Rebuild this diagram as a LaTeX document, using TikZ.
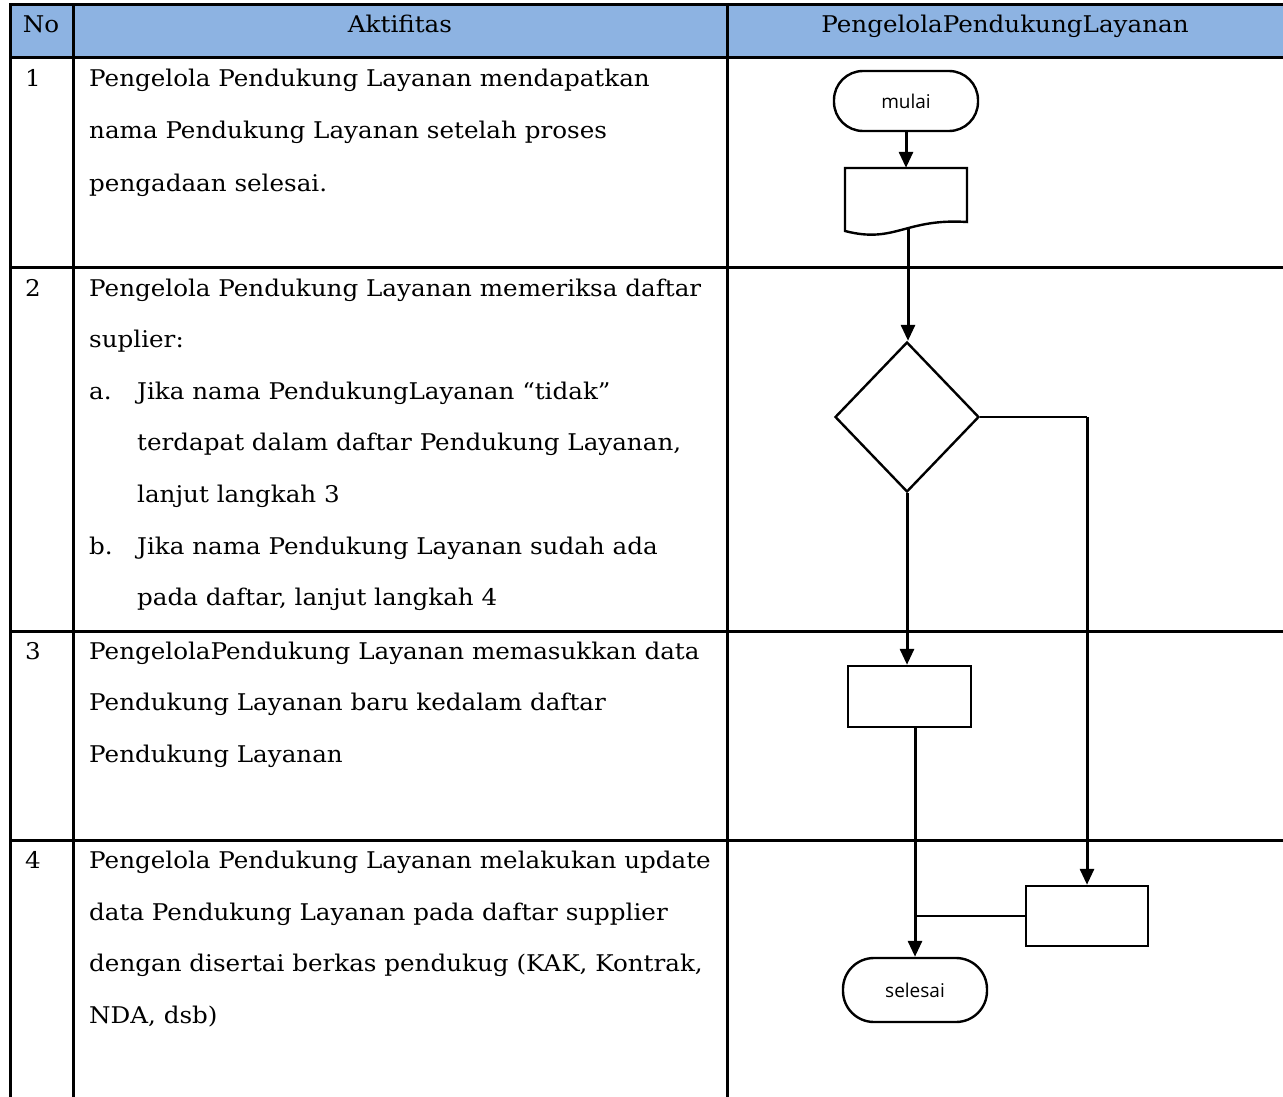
\documentclass[tikz,border=0pt]{standalone}
\usepackage{fontspec}
\setmainfont{DejaVu Serif}[FakeStretch=1.07]
\newfontfamily\shapefont{Open Sans}
\usetikzlibrary{arrows.meta,shapes.geometric}
\definecolor{headblue}{HTML}{8DB3E2}
\tikzset{
  grid/.style={line width=3pt,line cap=rect},
  txt/.style={anchor=base west,inner sep=0pt,font=\fontsize{23}{27}\selectfont},
  hdr/.style={anchor=base,inner sep=0pt,font=\fontsize{23}{27}\selectfont},
  term/.style={draw,line width=2.4pt,rounded corners=29pt,minimum width=144pt,minimum height=60pt,inner sep=0pt,font=\shapefont\fontsize{19}{22}\selectfont},
  proc/.style={draw,line width=2.4pt,minimum width=122pt,minimum height=60pt,inner sep=0pt},
  dec/.style={draw,diamond,line width=2.4pt,minimum width=144pt,minimum height=150pt,inner sep=0pt},
  flow/.style={line width=3pt,-{Triangle[length=16pt,width=14pt]}},
  plain/.style={line width=2.8pt}
}
\begin{document}
\begin{tikzpicture}[x=1pt,y=-1pt]
\useasboundingbox (0,0) rectangle (1283,1097);
% header
\fill[headblue] (10,5) rectangle (1283,58);
\draw[grid] (10,5) -- (1283,5);
\draw[grid] (10,58) -- (1283,58);
\draw[grid] (10,267) -- (1283,267);
\draw[grid] (10,631) -- (1283,631);
\draw[grid] (10,840) -- (1283,840);
\draw[grid] (10,5) -- (10,1097);
\draw[grid] (73,5) -- (73,1097);
\draw[grid] (727,5) -- (727,1097);
\node[hdr] (hno) at (41,33) {No};
\node[hdr] (hakt) at (400,33) {Aktifitas};
\node[hdr] (hpel) at (1005,33) {PengelolaPendukungLayanan};
% numbers
\node[txt] (n1) at (25,87) {1};
\node[txt] (n2) at (25,296) {2};
\node[txt] (n3) at (25,659) {3};
\node[txt] (n4) at (25,868) {4};
% row 1
\node[txt] (r1a) at (89,87) {Pengelola Pendukung Layanan mendapatkan};
\node[txt] (r1b) at (89,139) {nama Pendukung Layanan setelah proses};
\node[txt] (r1c) at (89,191) {pengadaan selesai.};
% row 2
\node[txt] (r2a) at (89,296) {Pengelola Pendukung Layanan memeriksa daftar};
\node[txt] (r2b) at (89,347) {suplier:};
\node[txt] (r2c) at (89,399) {a.};
\node[txt] (r2d) at (137,399) {Jika nama PendukungLayanan “tidak”};
\node[txt] (r2e) at (137,450) {terdapat dalam daftar Pendukung Layanan,};
\node[txt] (r2f) at (137,502) {lanjut langkah 3};
\node[txt] (r2g) at (89,554) {b.};
\node[txt] (r2h) at (137,554) {Jika nama Pendukung Layanan sudah ada};
\node[txt] (r2i) at (137,605) {pada daftar, lanjut langkah 4};
% row 3
\node[txt] (r3a) at (89,659) {PengelolaPendukung Layanan memasukkan data};
\node[txt] (r3b) at (89,710) {Pendukung Layanan baru kedalam daftar};
\node[txt] (r3c) at (89,762) {Pendukung Layanan};
% row 4
\node[txt] (r4a) at (89,868) {Pengelola Pendukung Layanan melakukan update};
\node[txt] (r4b) at (89,920) {data Pendukung Layanan pada daftar supplier};
\node[txt] (r4c) at (89,971) {dengan disertai berkas pendukug (KAK, Kontrak,};
\node[txt] (r4d) at (89,1023) {NDA, dsb)};
% flowchart
\node[term] (mulai) at (906,101) {mulai};
\node[minimum width=122pt,minimum height=64pt,inner sep=0pt] (doc) at (906,200) {};
\draw[line width=2.4pt] (845,168) -- (967,168) -- (967,222) .. controls (905,218) and (895,244) .. (845,231) -- cycle;
\coordinate (docb) at (908,229);
\node[dec] (dec) at (907,417) {};
\node[proc,minimum width=123pt,minimum height=61pt] (p3) at (909.5,696.5) {};
\node[proc] (p4) at (1087,916) {};
\node[term,minimum height=64pt,rounded corners=31pt] (selesai) at (915,990) {selesai};
\coordinate (cr) at (1087,417);
\draw[flow] (mulai.south) -- (doc.north);
\draw[flow] (docb) -- (docb |- dec.north);
\draw[flow] (dec.south) -- (dec.south |- p3.north);
\draw[plain] (dec.east) -- (cr);
\draw[flow] (cr) -- (p4.north);
\draw[flow] (p3.south -| selesai.north) -- (selesai.north);
\draw[plain] (p4.west) -- (p4.west -| selesai.north);
\end{tikzpicture}
\end{document}
